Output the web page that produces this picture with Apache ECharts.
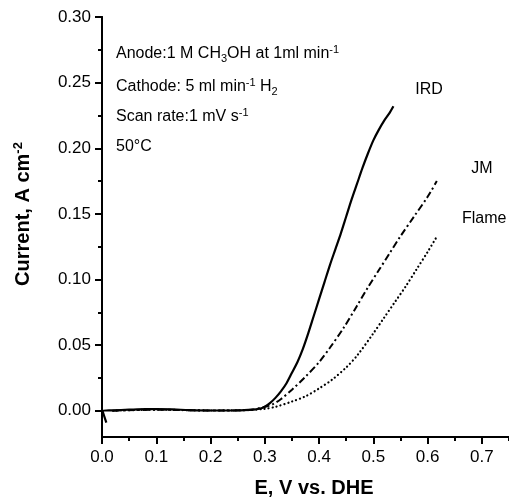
<!DOCTYPE html>
<html><head><meta charset="utf-8">
<script src="https://cdn.jsdelivr.net/npm/echarts@6/dist/echarts.min.js"></script>
<style>html,body{margin:0;padding:0;background:#fff}#c{width:509px;height:498px}</style>
</head><body><div id="c"></div>
<script>
// Potential E (V vs. DHE) and current density (A cm^-2)
const ird_E = [0.008, 0.001, 0.02, 0.05, 0.08, 0.10, 0.13, 0.16, 0.20, 0.24, 0.27, 0.29, 0.30, 0.31, 0.32, 0.33, 0.34, 0.35, 0.36, 0.37, 0.38, 0.39, 0.40, 0.41, 0.42, 0.43, 0.44, 0.45, 0.46, 0.47, 0.48, 0.49, 0.50, 0.51, 0.52, 0.53, 0.537];
const ird_I = [-0.009, 0.000, 0.0003, 0.0008, 0.0012, 0.0012, 0.0010, 0.0005, 0.0002, 0.0002, 0.0006, 0.0015, 0.003, 0.006, 0.010, 0.015, 0.021, 0.029, 0.037, 0.047, 0.059, 0.072, 0.085, 0.098, 0.111, 0.123, 0.135, 0.148, 0.161, 0.173, 0.185, 0.196, 0.206, 0.214, 0.221, 0.227, 0.232];
const jm_E = [0.02, 0.10, 0.20, 0.27, 0.30, 0.315, 0.33, 0.35, 0.375, 0.40, 0.42, 0.445, 0.47, 0.49, 0.51, 0.53, 0.55, 0.575, 0.60, 0.617];
const jm_I = [0.000, 0.0008, 0.0002, 0.0006, 0.003, 0.005, 0.009, 0.016, 0.026, 0.037, 0.048, 0.063, 0.080, 0.094, 0.107, 0.120, 0.133, 0.148, 0.163, 0.175];
const flame_E = [0.02, 0.10, 0.20, 0.27, 0.30, 0.32, 0.35, 0.375, 0.40, 0.425, 0.45, 0.47, 0.50, 0.52, 0.54, 0.56, 0.58, 0.60, 0.616];
const flame_I = [0.000, 0.0008, 0.0002, 0.0005, 0.0015, 0.003, 0.007, 0.011, 0.017, 0.024, 0.033, 0.042, 0.059, 0.071, 0.083, 0.095, 0.108, 0.121, 0.132];

const xMajor = [0, 0.1, 0.2, 0.3, 0.4, 0.5, 0.6, 0.7];
const xMinor = [0.05, 0.15, 0.25, 0.35, 0.45, 0.55, 0.65, 0.75];
const yMajor = [0, 0.05, 0.10, 0.15, 0.20, 0.25, 0.30];
const yMinor = [0.025, 0.075, 0.125, 0.175, 0.225, 0.275];

const seriesNames = ['IRD', 'JM', 'Flame'];
const zip = (a, b) => a.map((v, i) => [v, b[i]]);

const FONT = 'Liberation Sans, Arial, sans-serif';
const chart = echarts.init(document.getElementById('c'), null, {renderer: 'canvas'});

const baseX = {type: 'value', min: 0, max: 0.75, position: 'bottom',
  axisLine: {onZero: false, lineStyle: {color: '#000', width: 2}}, splitLine: {show: false}};
const baseY = {type: 'value', min: -0.02, max: 0.30, position: 'left',
  axisLine: {onZero: false, lineStyle: {color: '#000', width: 2}}, splitLine: {show: false}};

const rich = {
  n: {fontFamily: FONT, fontSize: 16, fill: '#000', lineHeight: 20},
  sub: {fontFamily: FONT, fontSize: 11, fill: '#000', lineHeight: 20, padding: [9, 0, 0, 0]},
  sup: {fontFamily: FONT, fontSize: 11, fill: '#000', lineHeight: 20, padding: [0, 0, 9, 0]}
};

const option = {
  animation: false,
  backgroundColor: '#fff',
  grid: {left: 102, top: 17, right: -10, bottom: 61, containLabel: false},
  xAxis: [
    Object.assign({}, baseX, {
      axisTick: {show: true, length: 7, inside: false, customValues: xMajor, lineStyle: {color: '#000', width: 2}},
      axisLabel: {show: true, customValues: xMajor, formatter: v => v.toFixed(1), fontFamily: FONT, fontSize: 17, color: '#000', margin: 12}
    }),
    Object.assign({}, baseX, {
      axisTick: {show: true, length: 4, customValues: xMinor, lineStyle: {color: '#000', width: 2}},
      axisLabel: {show: false}
    })
  ],
  yAxis: [
    Object.assign({}, baseY, {
      axisTick: {show: true, length: 7, customValues: yMajor, lineStyle: {color: '#000', width: 2}},
      axisLabel: {show: true, customValues: yMajor, formatter: v => v.toFixed(2), fontFamily: FONT, fontSize: 17, color: '#000', margin: 11}
    }),
    Object.assign({}, baseY, {
      axisTick: {show: true, length: 4, customValues: yMinor, lineStyle: {color: '#000', width: 2}},
      axisLabel: {show: false}
    })
  ],
  series: [
    {name: seriesNames[0], type: 'line', data: zip(ird_E, ird_I), showSymbol: false, smooth: 0.3,
     lineStyle: {color: '#000', width: 2.2, type: 'solid'}},
    {name: seriesNames[1], type: 'line', data: zip(jm_E, jm_I), showSymbol: false, smooth: 0.3,
     lineStyle: {color: '#000', width: 2, type: [7, 3, 2, 3]}},
    {name: seriesNames[2], type: 'line', data: zip(flame_E, flame_I), showSymbol: false, smooth: 0.3,
     lineStyle: {color: '#000', width: 2.2, type: [0.1, 4], cap: 'round'}}
  ],
  graphic: [
    {type: 'text', x: 314, y: 488, style: {text: 'E, V vs. DHE', fontFamily: FONT, fontSize: 20, fontWeight: 'bold', fill: '#000', align: 'center', verticalAlign: 'middle'}},
    {type: 'text', x: 23, y: 214, rotation: Math.PI / 2, style: {
      text: '{b|Current, A cm}{s|-2}', align: 'center', verticalAlign: 'middle',
      rich: {b: {fontFamily: FONT, fontSize: 20, fontWeight: 'bold', fill: '#000', lineHeight: 24},
             s: {fontFamily: FONT, fontSize: 13, fontWeight: 'bold', fill: '#000', lineHeight: 24, padding: [0, 0, 10, 0]}}}},
    {type: 'text', left: 116, top: 44, style: {text: '{n|Anode:1 M CH}{sub|3}{n|OH at 1ml min}{sup|-1}', rich: rich}},
    {type: 'text', left: 116, top: 77, style: {text: '{n|Cathode: 5 ml min}{sup|-1}{n| H}{sub|2}', rich: rich}},
    {type: 'text', left: 116, top: 107, style: {text: '{n|Scan rate:1 mV s}{sup|-1}', rich: rich}},
    {type: 'text', left: 116, top: 139, style: {text: '{n|50°C}', rich: rich}},
    {type: 'text', x: 429, y: 90, style: {text: 'IRD', fontFamily: FONT, fontSize: 16, fill: '#000', align: 'center', verticalAlign: 'middle'}},
    {type: 'text', x: 482, y: 169, style: {text: 'JM', fontFamily: FONT, fontSize: 16, fill: '#000', align: 'center', verticalAlign: 'middle'}},
    {type: 'text', x: 462, y: 219, style: {text: 'Flame', fontFamily: FONT, fontSize: 16, fill: '#000', align: 'left', verticalAlign: 'middle'}}
  ]
};
chart.setOption(option);
</script></body></html>
